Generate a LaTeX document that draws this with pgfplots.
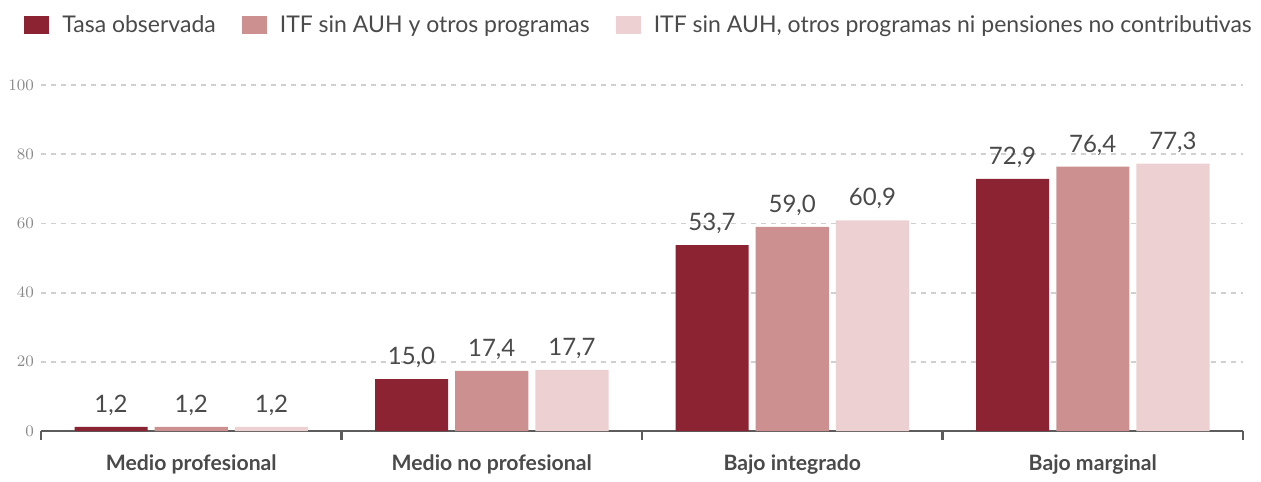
\documentclass[border=0pt]{standalone}
\usepackage{pgfplots}
\pgfplotsset{compat=1.18}
\usepackage{fontspec}
\setmainfont{Lato}
\definecolor{c1}{HTML}{8B2332}
\definecolor{c2}{HTML}{CD9090}
\definecolor{c3}{HTML}{EDD1D2}
\definecolor{txt}{HTML}{4A4A4A}
\definecolor{tk}{HTML}{8A8A8A}
\definecolor{gridc}{HTML}{D0D0D0}

\begin{document}
\begin{tikzpicture}
\begin{axis}[
  scale only axis, width=601pt, height=173pt,
  xmin=-0.5, xmax=3.5, ymin=0, ymax=100,
  ytick={0,20,...,100},
  yticklabel style={font=\fontsize{8}{9}\selectfont, color=tk},
  ymajorgrids,
  major grid style={gridc, line width=0.9pt, dash pattern=on 2.5pt off 2.5pt},
  axis x line*=bottom, axis y line*=left,
  y axis line style={draw=none},
  x axis line style={txt!90, line width=1.4pt, -},
  ytick style={draw=none},
  xtick={-0.5,0.5,1.5,2.5,3.5},
  x tick label as interval,
  xticklabels={Medio profesional, Medio no profesional, Bajo integrado, Bajo marginal},
  xticklabel style={font=\fontsize{10.6}{12}\selectfont\bfseries, color=txt, yshift=-4pt},
  tick align=inside, major tick length=4.5pt,
  xtick style={txt!90, line width=1.1pt},
  ybar, bar width=0.243,
  nodes near coords={\pgfmathprintnumber[use comma,fixed,fixed zerofill,precision=1,assume math mode=true]{\pgfplotspointmeta}},
  every node near coord/.append style={font=\fontsize{12}{14}\selectfont, color=txt, yshift=2pt},
  legend columns=-1,
  legend style={draw=none, fill=none, inner sep=0pt, anchor=west,
    at={(-0.01414,1.173)}, font=\fontsize{11.5}{13}\selectfont, text=txt},
  legend image code/.code={\fill[#1] (0pt,-4.5pt) rectangle (12.5pt,4.5pt); \path (17pt,0pt);},
  clip=false,
]
\addplot[fill=c1, draw=none, bar shift=-0.267] coordinates {(0,1.2) (1,15.0) (2,53.7) (3,72.9)};
\addlegendentry{Tasa observada\hspace{11pt}\null}
\addplot[fill=c2, draw=none, bar shift=0] coordinates {(0,1.2) (1,17.4) (2,59.0) (3,76.4)};
\addlegendentry{ITF sin AUH y otros programas\hspace{11pt}\null}
\addplot[fill=c3, draw=none, bar shift=0.267] coordinates {(0,1.2) (1,17.7) (2,60.9) (3,77.3)};
\addlegendentry{ITF sin AUH, otros programas ni pensiones no contributivas}
\coordinate (O) at (rel axis cs:0,0);
\end{axis}
\path (O) ++(-20.5pt,-21pt) rectangle ++(630.5pt,236.5pt);
\end{tikzpicture}
\end{document}
